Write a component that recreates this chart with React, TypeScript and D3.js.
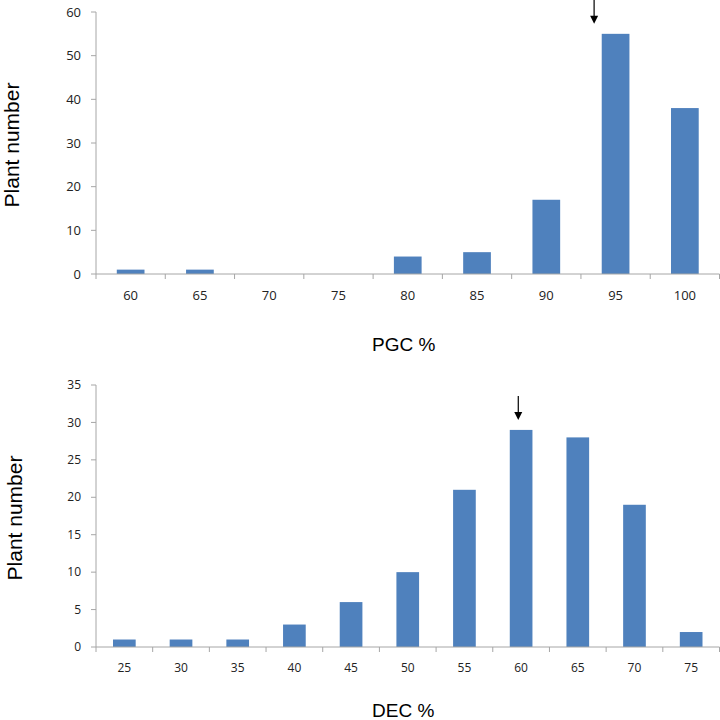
import React from "react";
import * as d3 from "d3";

const pgcCategories = ["60", "65", "70", "75", "80", "85", "90", "95", "100"];
const pgcValues = [1, 1, 0, 0, 4, 5, 17, 55, 38];
const pgcTicks = [0, 10, 20, 30, 40, 50, 60];
const pgcArrowAt = "95";

const decCategories = ["25", "30", "35", "40", "45", "50", "55", "60", "65", "70", "75"];
const decValues = [1, 1, 1, 3, 6, 10, 21, 29, 28, 19, 2];
const decTicks = [0, 5, 10, 15, 20, 25, 30, 35];
const decArrowAt = "60";

const BAR = "#4f81bd";
const AXIS = "#a6a6a6";

type PanelProps = {
  cats: string[];
  vals: number[];
  ticks: number[];
  yMax: number;
  top: number;
  bottom: number;
  xLabel: string;
  xLabelY: number;
  yLabelX: number;
  arrowCat: string;
  arrowOffset: number;
  tickFont: number;
};

function Panel(p: PanelProps) {
  const left = 96;
  const right = 719.5;
  const x = d3.scaleBand<string>().domain(p.cats).range([left, right]).paddingInner(0.6).paddingOuter(0.3);
  const band = d3.scaleBand<string>().domain(p.cats).range([left, right]);
  const y = d3.scaleLinear().domain([0, p.yMax]).range([p.bottom, p.top]);
  const arrowIdx = p.cats.indexOf(p.arrowCat);
  const ax = (band(p.arrowCat) as number) + band.bandwidth() * p.arrowOffset;
  const arrowTipY = y(p.vals[arrowIdx]) - 10;
  const arrowTopY = arrowTipY - 24;
  const tickLabelFont = "'Open Sans', 'DejaVu Sans', sans-serif";
  return (
    <g>
      {p.cats.map((c, i) => (
        <rect key={c} x={x(c)} y={y(p.vals[i])} width={x.bandwidth()} height={p.bottom - y(p.vals[i])} fill={BAR} />
      ))}
      <line x1={left} x2={left} y1={p.top} y2={p.bottom} stroke={AXIS} strokeWidth={1} />
      <line x1={left} x2={right} y1={p.bottom} y2={p.bottom} stroke={AXIS} strokeWidth={1} />
      {p.ticks.map((t) => (
        <g key={t}>
          <line x1={left - 5} x2={left} y1={y(t)} y2={y(t)} stroke={AXIS} />
          <text x={left - 15} y={y(t)} dy="0.35em" textAnchor="end" fontSize={p.tickFont} fontFamily={tickLabelFont} fill="#222">
            {t}
          </text>
        </g>
      ))}
      {p.cats.map((c) => (
        <line key={"t" + c} x1={band(c)} x2={band(c)} y1={p.bottom} y2={p.bottom + 5} stroke={AXIS} />
      ))}
      <line x1={right} x2={right} y1={p.bottom} y2={p.bottom + 5} stroke={AXIS} />
      {p.cats.map((c) => (
        <text key={"l" + c} x={(band(c) as number) + band.bandwidth() / 2} y={p.bottom + 21} dy="0.35em" textAnchor="middle" fontSize={p.tickFont} fontFamily={tickLabelFont} fill="#222">
          {c}
        </text>
      ))}
      <text x={372} y={p.xLabelY} fontSize={19} fontFamily="'Liberation Sans', Arial, sans-serif" fill="#000">
        {p.xLabel}
      </text>
      <text
        transform={`translate(${p.yLabelX},${(p.top + p.bottom) / 2 + 2}) rotate(-90)`}
        textAnchor="middle"
        fontSize={21}
        fontFamily="'Liberation Sans', Arial, sans-serif"
        fill="#000"
      >
        Plant number
      </text>
      <line x1={ax} x2={ax} y1={arrowTopY} y2={arrowTipY - 7} stroke="#000" strokeWidth={1.2} />
      <path d={`M${ax - 4},${arrowTipY - 8} L${ax + 4},${arrowTipY - 8} L${ax},${arrowTipY} Z`} fill="#000" />
    </g>
  );
}

export default function App() {
  return (
    <div style={{ position: "absolute", left: 0, top: 0 }}>
      <svg width={720} height={720} style={{ display: "block", background: "#fff" }}>
        <Panel
          cats={pgcCategories}
          vals={pgcValues}
          ticks={pgcTicks}
          yMax={60}
          top={12}
          bottom={274}
          xLabel="PGC %"
          xLabelY={351}
          yLabelX={19}
          arrowCat={pgcArrowAt}
          arrowOffset={0.19}
          tickFont={13}
        />
        <Panel
          cats={decCategories}
          vals={decValues}
          ticks={decTicks}
          yMax={35}
          top={385}
          bottom={647}
          xLabel="DEC %"
          xLabelY={717}
          yLabelX={22}
          arrowCat={decArrowAt}
          arrowOffset={0.45}
          tickFont={12}
        />
      </svg>
    </div>
  );
}
